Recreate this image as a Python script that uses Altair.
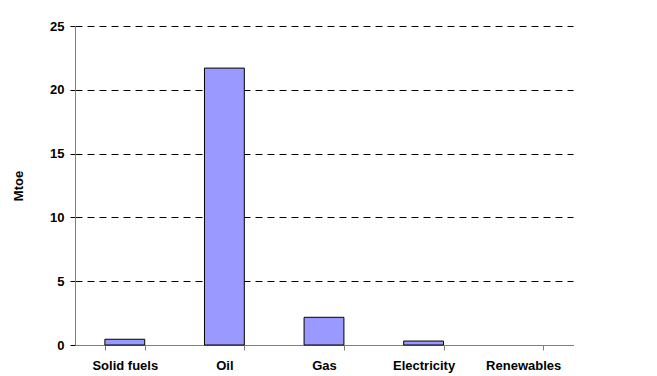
import altair as alt
import pandas as pd

categories = ["Solid fuels", "Oil", "Gas", "Electricity", "Renewables"]
values = [0.45, 21.7, 2.17, 0.31, 0.0]

df = pd.DataFrame({"cat": categories, "val": values})

chart = alt.Chart(df).mark_bar(
    color="#9999FF", stroke="black"
).encode(
    x=alt.X("cat:N", sort=categories, title=None,
            scale=alt.Scale(paddingInner=0.6, paddingOuter=0.3),
            axis=alt.Axis(labelAngle=0, labelFont="Liberation Sans", labelFontWeight="bold",
                          labelFontSize=13, labelColor="black", domainColor="#808080",
                          tickColor="#808080", tickBand="extent", tickSize=5,
                          labelPadding=9, grid=False)),
    y=alt.Y("val:Q", title="Mtoe",
            scale=alt.Scale(domain=[0, 25], nice=False),
            axis=alt.Axis(values=[0, 5, 10, 15, 20, 25], labelFont="Liberation Sans",
                          labelFontWeight="bold", labelFontSize=13, labelColor="black",
                          domainColor="#808080", tickColor="black", tickSize=5,
                          labelPadding=6, titleFont="Liberation Sans", titleFontWeight="bold",
                          titleFontSize=13, titleColor="black", titlePadding=24,
                          gridColor="black", gridDash=[7, 5], gridWidth=1, gridOpacity=1)),
    strokeWidth=alt.condition(alt.datum.val > 0, alt.value(1), alt.value(0)),
).properties(
    width=498, height=319,
    autosize=alt.AutoSizeParams(type="none"),
    padding={"left": 67, "top": 18, "right": 70, "bottom": 40},
).configure_view(stroke=None)

chart.save("out.html", embed_options={"renderer": "svg", "actions": False})
